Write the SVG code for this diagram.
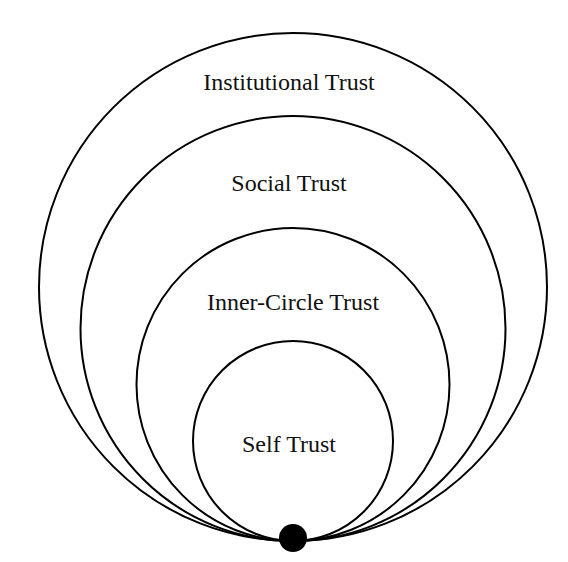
<svg xmlns="http://www.w3.org/2000/svg" width="568" height="562" viewBox="0 0 568 562">
<style>
.ring{fill:none;stroke:#000;stroke-width:2}
.lbl{font-family:"Liberation Serif","DejaVu Serif",serif;font-size:24px;fill:#111;text-anchor:middle}
</style>
<rect width="568" height="562" fill="#fff"/>
<g id="institutional">
<circle class="ring" cx="293" cy="287" r="254"/>
<text class="lbl" x="289" y="90">Institutional Trust</text>
</g>
<g id="social">
<circle class="ring" cx="293" cy="328.5" r="212.5"/>
<text class="lbl" x="289" y="191">Social Trust</text>
</g>
<g id="inner-circle">
<circle class="ring" cx="293" cy="384.5" r="156.5"/>
<text class="lbl" x="293" y="310">Inner-Circle Trust</text>
</g>
<g id="self">
<circle class="ring" cx="293" cy="441" r="100"/>
<text class="lbl" x="289" y="452">Self Trust</text>
</g>
<g id="connectors"></g>
<g id="origin">
<circle cx="293" cy="538" r="14" fill="#000"/>
</g>
</svg>
